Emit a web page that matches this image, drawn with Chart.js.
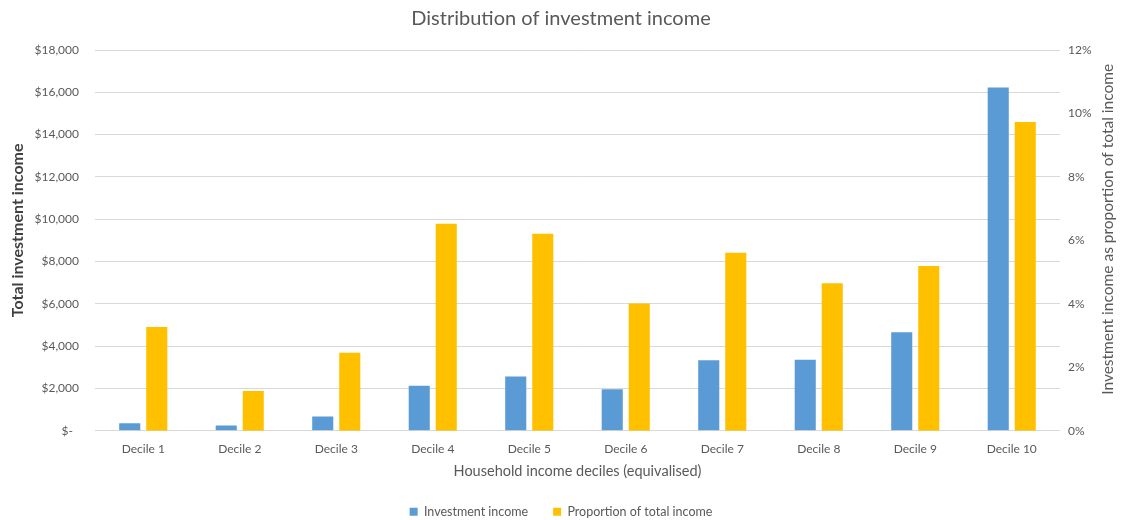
<!DOCTYPE html>
<html>
<head>
<meta charset="utf-8">
<script src="https://cdn.jsdelivr.net/npm/chart.js@4.4.1/dist/chart.umd.min.js"></script>
<style>
  html, body { margin: 0; padding: 0; background: #ffffff; }
  #wrap { width: 1122px; height: 520px; position: relative; }
</style>
</head>
<body>
<div id="wrap"><canvas id="c" width="1122" height="520"></canvas></div>
<script>
const categories = ['Decile 1','Decile 2','Decile 3','Decile 4','Decile 5','Decile 6','Decile 7','Decile 8','Decile 9','Decile 10'];
const investmentIncome = [350, 250, 670, 2130, 2560, 1960, 3330, 3350, 4660, 16230];
const proportionOfTotal = [3.27, 1.25, 2.46, 6.52, 6.21, 4.01, 5.61, 4.65, 5.19, 9.73];
const leftTicksMax = 18000;
const leftTickStep = 2000;
const rightTicksMax = 12;
const rightTickStep = 2;
const leftAxisTitle = 'Total investment income';
const rightAxisTitle = 'Investment income as proportion of total income';

const FONT = "Lato, 'Open Sans', sans-serif";
const GREY = '#595959';

function drawVertical(ctx, text, x, y, font, color) {
  ctx.save();
  ctx.translate(x, y);
  ctx.rotate(-Math.PI / 2);
  ctx.font = font;
  ctx.fillStyle = color;
  ctx.textAlign = 'center';
  ctx.textBaseline = 'middle';
  ctx.fillText(text, 0, 0);
  ctx.restore();
}

const axisTitlesPlugin = {
  id: 'axisTitles',
  afterDraw(chart) {
    const ctx = chart.ctx;
    const area = chart.chartArea;
    const cy = (area.top + area.bottom) / 2 - 10;
    drawVertical(ctx, leftAxisTitle, 18, cy, "bold 16px " + FONT, '#404040');
    drawVertical(ctx, rightAxisTitle, 1108, cy - 1, "15.5px " + FONT, GREY);
  }
};

new Chart(document.getElementById('c'), {
  type: 'bar',
  data: {
    labels: categories,
    datasets: [
      {
        label: 'Investment income',
        data: investmentIncome,
        backgroundColor: '#5B9BD5',
        yAxisID: 'y',
        categoryPercentage: 0.56,
        barPercentage: 0.78
      },
      {
        label: 'Proportion of total income',
        data: proportionOfTotal,
        backgroundColor: '#FFC000',
        yAxisID: 'y1',
        categoryPercentage: 0.56,
        barPercentage: 0.78
      }
    ]
  },
  plugins: [axisTitlesPlugin],
  options: {
    responsive: false,
    animation: false,
    devicePixelRatio: 1,
    layout: { padding: { top: 0, bottom: -8, left: 0, right: 0 } },
    plugins: {
      tooltip: { enabled: false },
      title: {
        display: true,
        text: 'Distribution of investment income',
        color: GREY,
        font: { family: FONT, size: 20, weight: 'normal' },
        padding: { top: 7, bottom: 19 }
      },
      legend: {
        position: 'bottom',
        labels: {
          boxWidth: 8,
          boxHeight: 8,
          color: GREY,
          font: { family: FONT, size: 12.5 },
          padding: 25
        }
      }
    },
    scales: {
      x: {
        grid: { display: false },
        border: { display: false },
        ticks: { color: GREY, font: { family: FONT, size: 12 }, padding: 3 },
        title: {
          display: true,
          text: 'Household income deciles (equivalised)',
          color: GREY,
          font: { family: FONT, size: 14.5 },
          padding: { top: 4, bottom: 0 }
        }
      },
      y: {
        position: 'left',
        min: 0,
        max: leftTicksMax,
        afterFit: (s) => { s.width = 95; },
        grid: { color: '#d9d9d9', drawTicks: false, lineWidth: 1 },
        border: { display: false },
        ticks: {
          stepSize: leftTickStep,
          color: GREY,
          font: { family: FONT, size: 12 },
          padding: 16,
          callback: (v) => v === 0 ? '$-  ' : '$' + Number(v).toLocaleString('en-US')
        },
        title: { display: false }
      },
      y1: {
        position: 'right',
        min: 0,
        max: rightTicksMax,
        afterFit: (s) => { s.width = 62; },
        grid: { display: false, drawTicks: false },
        border: { display: false },
        ticks: {
          stepSize: rightTickStep,
          color: GREY,
          font: { family: FONT, size: 12 },
          padding: 8,
          callback: (v) => v + '%'
        },
        title: { display: false }
      }
    }
  }
});
</script>
</body>
</html>
